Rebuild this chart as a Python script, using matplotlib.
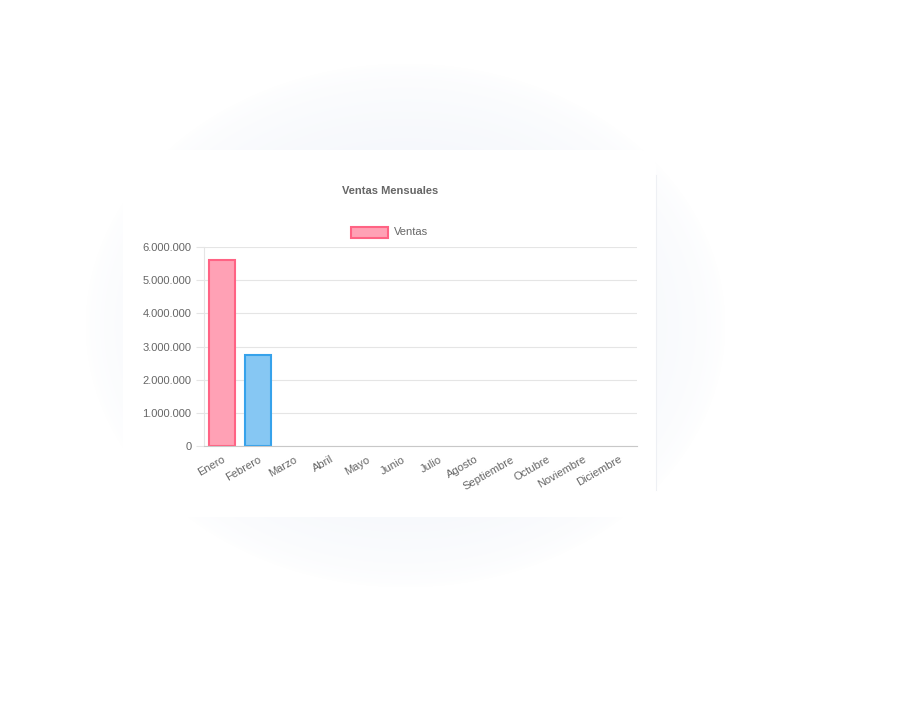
import numpy as np
import matplotlib.pyplot as plt
from matplotlib.patches import FancyBboxPatch
from matplotlib.ticker import FuncFormatter

meses = ['Enero', 'Febrero', 'Marzo', 'Abril', 'Mayo', 'Junio', 'Julio',
         'Agosto', 'Septiembre', 'Octubre', 'Noviembre', 'Diciembre']
ventas = [5600000, 2740000, 0, 0, 0, 0, 0, 0, 0, 0, 0, 0]
colores_relleno = ['#ffa1b5', '#86c7f3'] + ['#ffa1b5'] * 10
colores_borde = ['#ff6384', '#36a2eb'] + ['#ff6384'] * 10
yticks = [0, 1000000, 2000000, 3000000, 4000000, 5000000, 6000000]

plt.rcParams['font.family'] = ['Liberation Sans', 'DejaVu Sans']

W, H = 900, 728
fig = plt.figure(figsize=(9, 7.28), dpi=100)

# soft shadow behind the card
bg = fig.add_axes([0, 0, 1, 1])
bg.set_xlim(0, W)
bg.set_ylim(H, 0)
bg.axis('off')
xx, yy = np.meshgrid(np.arange(W), np.arange(H))
r = np.sqrt(((xx - 405) / 320.0) ** 2 + ((yy - 325) / 262.0) ** 2)
alpha = np.clip(1 - r, 0, 1) ** 0.6
img = np.ones((H, W, 3))
shade = np.array([0.935, 0.95, 0.978])
img = img * (1 - alpha[..., None]) + shade * alpha[..., None]
bg.imshow(img, extent=(0, W, H, 0), zorder=0)
card = FancyBboxPatch((123, 150), 533, 367, boxstyle='round,pad=0,rounding_size=14',
                      facecolor='white', edgecolor='none', zorder=1)
bg.add_patch(card)
bg.plot([656, 656], [175, 490], color='#eef0f4', lw=0.8, zorder=2)

# chart
ax = fig.add_axes([204 / W, 1 - 446 / H, 433 / W, 199 / H])
x = np.arange(len(meses))
anchos = [1.5 if v > 0 else 0 for v in ventas]
ax.bar(x, ventas, width=0.7, color=colores_relleno, edgecolor=colores_borde,
       linewidth=anchos, zorder=3)
ax.set_xlim(-0.5, len(meses) - 0.5)
ax.set_ylim(0, 6000000)
ax.set_yticks(yticks)
ax.yaxis.set_major_formatter(FuncFormatter(lambda v, p: f'{int(v):,}'.replace(',', '.')))
ax.set_xticks(x)
ax.set_xticklabels(meses, rotation=30, ha='right', rotation_mode='anchor')
ax.grid(axis='y', color='#e5e5e5', linewidth=0.8, zorder=0)
ax.tick_params(axis='y', length=6, color='#e5e5e5', labelsize=8, labelcolor='#666666', pad=3)
ax.tick_params(axis='x', length=0, labelsize=8, labelcolor='#666666', pad=6)
for s in ['top', 'right']:
    ax.spines[s].set_visible(False)
ax.spines['left'].set_color('#e5e5e5')
ax.spines['left'].set_linewidth(0.8)
ax.spines['bottom'].set_color('#c8c8c8')
ax.spines['bottom'].set_linewidth(0.8)
ax.spines['bottom'].set_zorder(4)
ax.patch.set_alpha(0)

# title and legend
fig.text(390 / W, 1 - 191 / H, 'Ventas Mensuales', ha='center', va='center',
         fontsize=8, fontweight='bold', color='#666666')
leg = FancyBboxPatch((351, 227), 37, 11, boxstyle='square,pad=0',
                     facecolor='#ffa1b5', edgecolor='#ff6384', linewidth=1.5, zorder=3)
bg.add_patch(leg)
fig.text(394 / W, 1 - 232 / H, 'Ventas', ha='left', va='center',
         fontsize=8, color='#666666')

fig.savefig('out.png', dpi=100)
